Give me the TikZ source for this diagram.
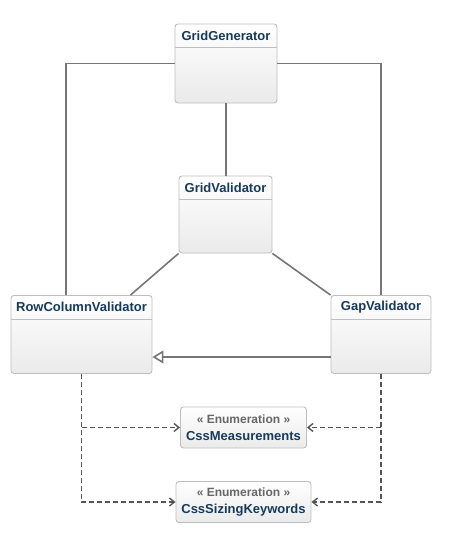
\documentclass[tikz,border=0pt]{standalone}
\usepackage{fontspec}
\setmainfont{Liberation Sans}
\usepackage{tikz}
\usetikzlibrary{arrows.meta,positioning}

\definecolor{namecol}{RGB}{22,58,94}
\definecolor{stereocol}{RGB}{102,102,102}
\definecolor{boxline}{RGB}{190,190,190}
\definecolor{boxbottom}{RGB}{234,234,234}
\definecolor{linkcol}{RGB}{118,118,118}
\definecolor{dashcol}{RGB}{85,85,85}

\tikzset{
  umlclass/.style={draw=boxline, line width=0.9pt, rounded corners=3pt,
    top color=white, bottom color=boxbottom, inner sep=0pt},
  classtitle/.style={text=namecol, font=\fontsize{13}{15}\selectfont\bfseries},
  enumtitle/.style={align=center, text=namecol,
    font=\fontsize{13}{17.5}\selectfont\bfseries},
  link/.style={draw=linkcol, line width=1.6pt},
  uses/.style={draw=dashcol, line width=1.4pt, dash pattern=on 5pt off 3pt,
    -{Straight Barb[length=5pt,width=8pt]}},
}

\begin{document}
\begin{tikzpicture}[x=1pt,y=1pt]
  \useasboundingbox (0,0) rectangle (458,-543);

  % classes
  \node[umlclass, minimum width=102pt, minimum height=79pt] (gen) at (226,-63.5) {};
  \node[umlclass, minimum width=93pt,  minimum height=77pt] (val) at (225.5,-214.5) {};
  \node[umlclass, minimum width=141pt, minimum height=78pt] (rcv) at (81.5,-334.5) {};
  \node[umlclass, minimum width=100pt, minimum height=78pt] (gap) at (381,-334.5) {};

  \node[classtitle] (gen-t) at ([yshift=-12pt]gen.north) {GridGenerator};
  \node[classtitle] (val-t) at ([yshift=-12pt]val.north) {GridValidator};
  \node[classtitle] (rcv-t) at ([yshift=-12pt]rcv.north) {RowColumnValidator};
  \node[classtitle] (gap-t) at ([yshift=-12pt]gap.north) {GapValidator};

  \foreach \c in {gen,val,rcv,gap}
    \draw[boxline, line width=0.9pt] ([yshift=-24pt]\c.north west) -- ([yshift=-24pt]\c.north east);

  % enumerations
  \node[umlclass, minimum width=126pt, minimum height=41pt] (msr) at (243.5,-427.5) {};
  \node[umlclass, minimum width=135pt, minimum height=41pt] (szk) at (243.5,-502) {};
  \node[enumtitle] (msr-t) at (msr) {\textcolor{stereocol}{\fontsize{12}{17.5}\selectfont « Enumeration »}\\CssMeasurements};
  \node[enumtitle] (szk-t) at (szk) {\textcolor{stereocol}{\fontsize{12}{17.5}\selectfont « Enumeration »}\\CssSizingKeywords};

  % associations
  \draw[link] (gen.south) -- (gen.south |- val.north);
  \draw[link] (gen.west) -| ([xshift=-15.5pt]rcv.north);
  \draw[link] (gen.east) -| (gap.north);
  \draw[link] (val.south west) -- ([xshift=-22pt]rcv.north east);
  \draw[link] (val.south east) -- (gap.north west);

  % generalization
  \draw[link, -{Triangle[open, length=11pt, width=13pt, fill=white]}]
    ([yshift=-22.5pt]gap.west) -- ([yshift=-22.5pt]gap.west -| rcv.east);

  % dependencies
  \draw[uses] (rcv.south) -- (rcv.south |- szk.west) -- (szk.west);
  \draw[uses] (rcv.south |- msr.west) -- (msr.west);
  \draw[uses] (gap.south) -- (gap.south |- szk.east) -- (szk.east);
  \draw[uses] (gap.south |- msr.east) -- (msr.east);
\end{tikzpicture}
\end{document}
